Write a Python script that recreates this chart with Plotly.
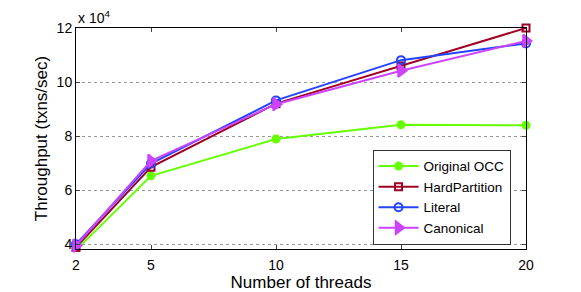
import plotly.graph_objects as go

threads = [2, 5, 10, 15, 20]
original_occ = [37800, 65300, 78900, 84200, 84000]
hard_partition = [38800, 68500, 92000, 105900, 120000]
literal = [40000, 69800, 93200, 108100, 114300]
canonical = [39500, 70800, 91800, 104200, 115200]

y_ticks = [40000, 60000, 80000, 100000, 120000]
y_tick_labels = ["4", "6", "8", "10", "12"]
x_ticks = [2, 5, 10, 15, 20]

fig = go.Figure()
series = [
    ("Original OCC", original_occ, "#66ff00", "circle", 7),
    ("HardPartition", hard_partition, "#a00025", "square-open", 7),
    ("Literal", literal, "#2244ff", "circle-open", 8),
    ("Canonical", canonical, "#cc44ff", "triangle-right", 11),
]
for name, ys, color, sym, size in series:
    fig.add_trace(go.Scatter(
        x=threads, y=ys, name=name, mode="lines+markers",
        line=dict(color=color, width=2),
        marker=dict(symbol=sym, size=size, color=color, line=dict(color=color, width=2)),
        cliponaxis=False,
    ))

font = dict(family="Liberation Sans, Arial, sans-serif", size=14, color="black")
# page body has an 8px margin; margins compensate so the plot area lands where the reference has it
fig.update_layout(
    width=581, height=292,
    margin=dict(l=68, r=63, t=17, b=51),
    paper_bgcolor="white", plot_bgcolor="white",
    font=font,
    showlegend=True,
    legend=dict(x=0.659, y=0.019, xanchor="left", yanchor="bottom",
                bgcolor="white", bordercolor="#333333", borderwidth=1,
                font=dict(size=13.5), tracegroupgap=0, itemwidth=40),
    xaxis=dict(range=[2, 20], tickvals=x_ticks, ticks="inside", ticklen=4,
               showline=True, linecolor="black", linewidth=1, mirror="allticks",
               showgrid=False, zeroline=False, ticklabelstandoff=3,
               title=dict(text="Number of threads", standoff=2)),
    yaxis=dict(range=[38200, 120000], tickvals=y_ticks, ticktext=y_tick_labels,
               ticks="inside", ticklen=4,
               showline=True, linecolor="black", linewidth=1, mirror="allticks",
               showgrid=True, gridcolor="#999999", griddash="dot", gridwidth=1,
               zeroline=False,
               title=dict(text="Throughput (txns/sec)", standoff=4)),
    annotations=[dict(text="x 10<sup>4</sup>", x=0, y=1, xref="paper", yref="paper",
                      xanchor="left", yanchor="bottom", showarrow=False,
                      font=dict(size=14), yshift=0)],
)

fig.write_html("out.html")
